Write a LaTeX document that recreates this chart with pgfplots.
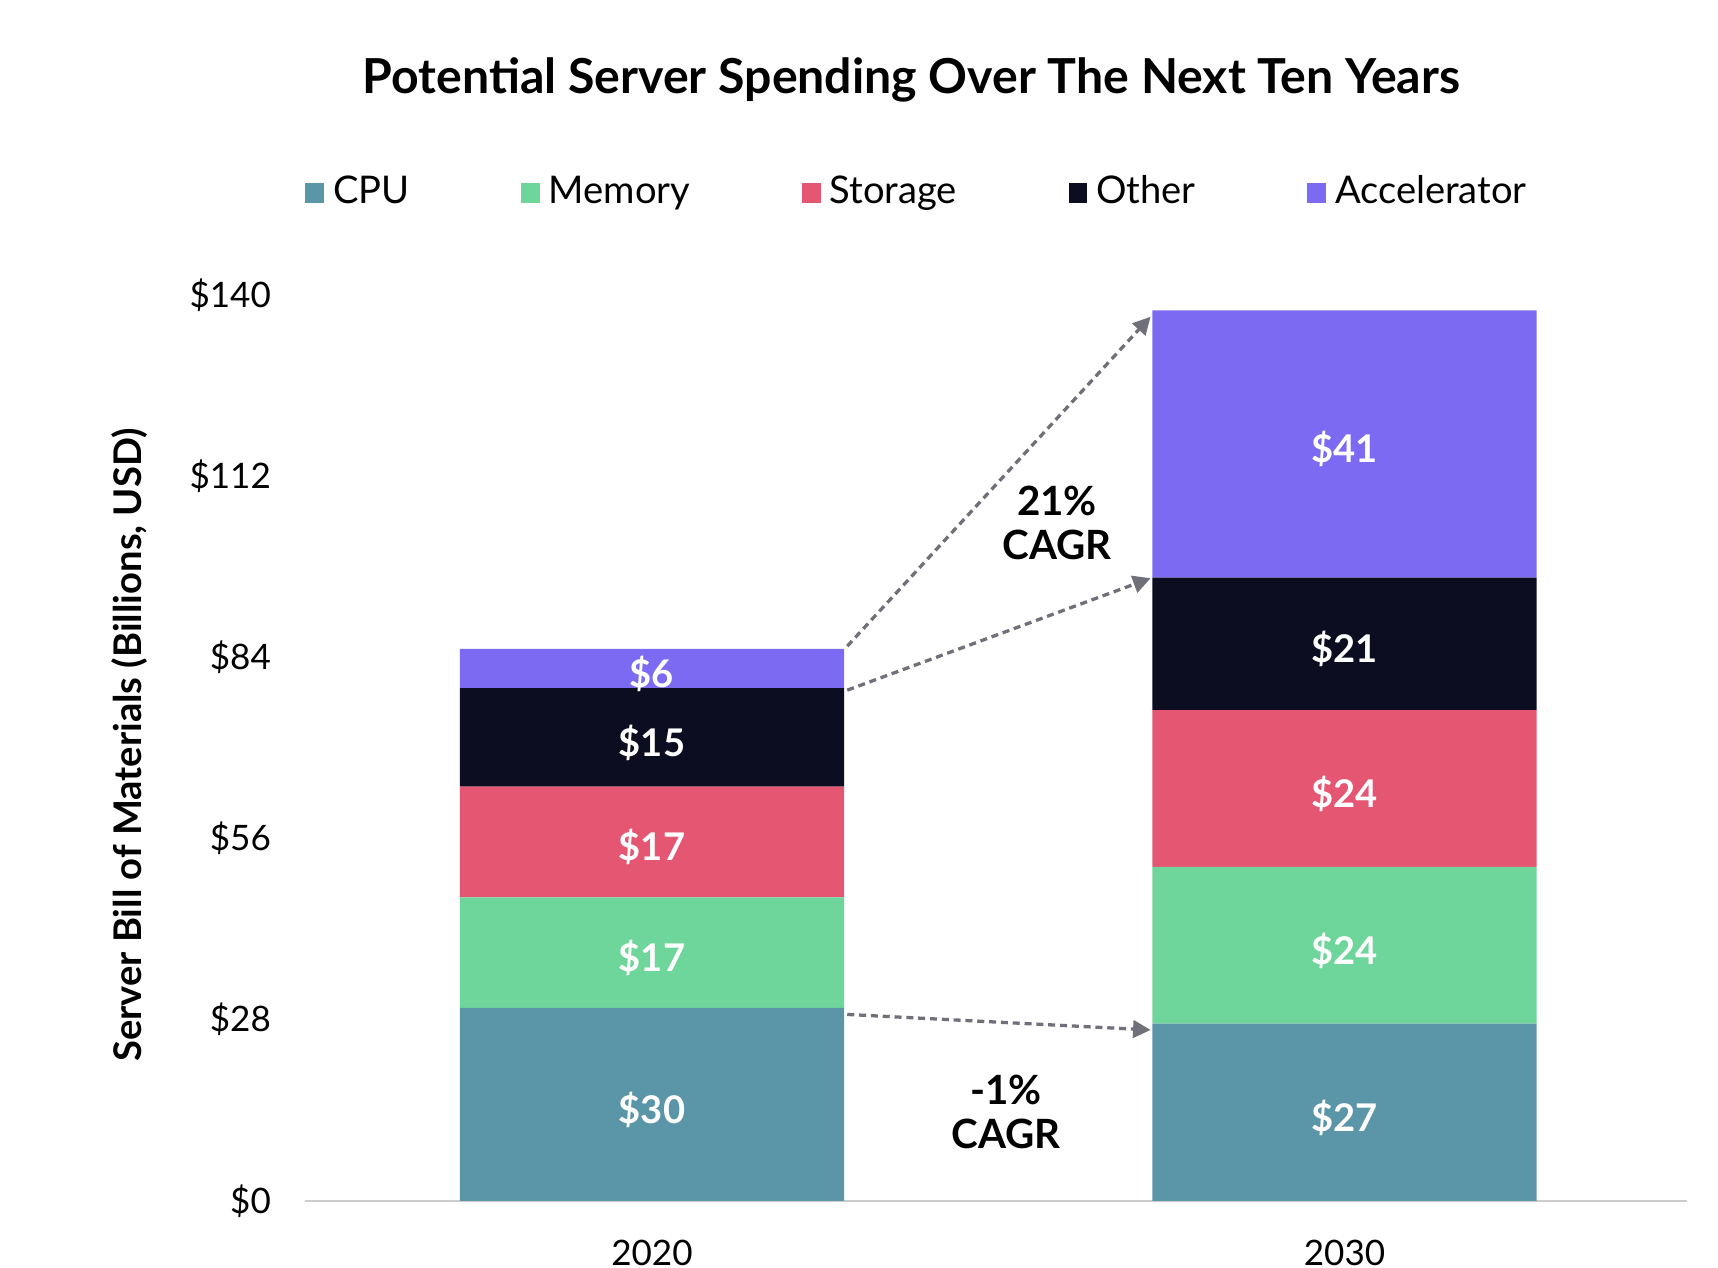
\documentclass[border=0pt]{standalone}
\usepackage{fontspec}
\setmainfont{Lato}
\usepackage{pgfplots}
\pgfplotsset{compat=1.18}
\usepackage{pgfplotstable}
\usetikzlibrary{arrows.meta}

\definecolor{cpu}{HTML}{5B95A8}
\definecolor{mem}{HTML}{6FD69B}
\definecolor{sto}{HTML}{E55672}
\definecolor{oth}{HTML}{0C0D20}
\definecolor{acc}{HTML}{7C6AF3}
\definecolor{arr}{HTML}{6F7079}
\definecolor{baseline}{HTML}{CCCCCC}

% server bill of materials, billions USD
\pgfplotstableread{
x cpu mem sto oth acc
0 29.8 17.1 17.1 15.2 6.1
1 27.4 24.2 24.2 20.5 41.3
}\spend

\pgfplotsset{
  sq legend/.style={legend image code/.code={\fill[##1] (0pt,-2.3pt) rectangle (4.3pt,2.3pt);}},
}
\tikzset{
  seglabel/.style={text=white, font=\bfseries\fontsize{8.7}{10}\selectfont, yshift=-1.2pt},
  cagr/.style={arr, line width=0.75pt, dash pattern=on 1.6pt off 1.1pt, -{Triangle[length=4pt,width=4pt]}},
  cagrtext/.style={font=\bfseries\fontsize{9.2}{10}\selectfont, align=center},
}

\begin{document}
\begin{tikzpicture}[font=\fontsize{8.5}{10}\selectfont]
\path[use as bounding box] (-69.5pt,-15.25pt) rectangle (322.5pt,274pt);
\begin{axis}[
  scale only axis, width=315.5pt, height=206.75pt,
  ybar stacked, bar width=0.555,
  xmin=-0.5016, xmax=1.495, ymin=0, ymax=140,
  axis x line*=bottom, axis y line*=left,
  x axis line style={draw=baseline, line width=0.5pt},
  y axis line style={draw=none},
  major tick length=0pt,
  xtick={0,1}, xticklabels={2020,2030},
  ytick={0,28,56,84,112,140},
  yticklabels={\$0,\$28,\$56,\$84,\$112,\$140},
  tick label style={font=\fontsize{8}{10}\selectfont},
  yticklabel style={anchor=east, inner sep=0pt, xshift=-7.5pt},
  xticklabel style={anchor=north, inner sep=0pt, yshift=-8.75pt},
  title={Potential Server Spending Over The Next Ten Years},
  every axis title shift=0pt,
  title style={at={(axis description cs:0.439,1.2366)}, anchor=center, font=\bfseries\fontsize{11}{13}\selectfont},
  ylabel={Server Bill of Materials (Billions, USD)},
  every axis y label/.style={at={(axis description cs:-0.1268,0.503)}, rotate=90, anchor=center, font=\bfseries\fontsize{8.7}{10}\selectfont},
  legend columns=5,
  legend style={draw=none, at={(axis description cs:0,1.1124)}, anchor=west, inner sep=0pt,
    font=\fontsize{8.7}{11}\selectfont,
    /tikz/every even column/.append style={column sep=23.5pt}},
]
\addplot[fill=cpu, draw=none, sq legend] table[x=x, y=cpu] {\spend};
\addplot[fill=mem, draw=none, sq legend] table[x=x, y=mem] {\spend};
\addplot[fill=sto, draw=none, sq legend] table[x=x, y=sto] {\spend};
\addplot[fill=oth, draw=none, sq legend] table[x=x, y=oth] {\spend};
\addplot[fill=acc, draw=none, sq legend] table[x=x, y=acc] {\spend};
\legend{CPU, Memory, Storage, Other, Accelerator}

% anchor points for the labels, drawn after the axis so they sit on top of the bars
\coordinate (a1) at (axis cs:0,14.9);
\coordinate (a2) at (axis cs:0,38.35);
\coordinate (a3) at (axis cs:0,55.45);
\coordinate (a4) at (axis cs:0,71.6);
\coordinate (a5) at (axis cs:0,82.25);
\coordinate (b1) at (axis cs:1,13.7);
\coordinate (b2) at (axis cs:1,39.5);
\coordinate (b3) at (axis cs:1,63.7);
\coordinate (b4) at (axis cs:1,86.05);
\coordinate (b5) at (axis cs:1,116.95);
\coordinate (s1) at (axis cs:0.282,85.7);  \coordinate (e1) at (axis cs:0.72,136.6);
\coordinate (s2) at (axis cs:0.282,78.9);  \coordinate (e2) at (axis cs:0.72,96.2);
\coordinate (s3) at (axis cs:0.282,28.8);  \coordinate (e3) at (axis cs:0.72,26.4);
\coordinate (t1) at (axis cs:0.585,104.8);
\coordinate (t2) at (axis cs:0.511,13.7);
\end{axis}

\node[seglabel] at (a1) {\$30};
\node[seglabel] at (a2) {\$17};
\node[seglabel] at (a3) {\$17};
\node[seglabel] at (a4) {\$15};
\node[seglabel] at (a5) {\$6};
\node[seglabel] at (b1) {\$27};
\node[seglabel] at (b2) {\$24};
\node[seglabel] at (b3) {\$24};
\node[seglabel] at (b4) {\$21};
\node[seglabel] at (b5) {\$41};

% CAGR arrows
\draw[cagr] (s1) -- (e1);
\draw[cagr] (s2) -- (e2);
\draw[cagr] (s3) -- (e3);
\node[cagrtext] at (t1) {21\%\\CAGR};
\node[cagrtext] at (t2) {-1\%\\CAGR};
\end{tikzpicture}
\end{document}
